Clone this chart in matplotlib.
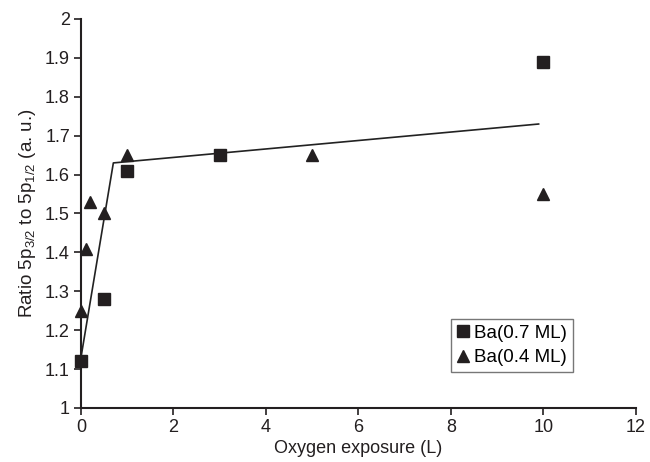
import matplotlib
matplotlib.use("Agg")
import matplotlib.pyplot as plt

plt.rcParams['font.family'] = ['Liberation Sans', 'DejaVu Sans']
plt.rcParams['mathtext.fontset'] = 'custom'
plt.rcParams['mathtext.rm'] = 'Liberation Sans'
plt.rcParams['mathtext.it'] = 'Liberation Sans'

sq_x = [0, 0.5, 1, 3, 10]
sq_y = [1.12, 1.28, 1.61, 1.65, 1.89]
tri_x = [0, 0.1, 0.2, 0.5, 1, 5, 10]
tri_y = [1.25, 1.41, 1.53, 1.50, 1.65, 1.65, 1.55]
fit_x = [0, 0.7, 9.9]
fit_y = [1.13, 1.63, 1.73]

fig = plt.figure(figsize=(6.5, 4.62), dpi=100)
ax = fig.add_axes([0.1246, 0.1169, 0.978 - 0.1246, 0.9589 - 0.1169])

ax.plot(fit_x, fit_y, color='#222222', lw=1.2, zorder=2)
ax.plot(sq_x, sq_y, 's', color='#231f20', ms=8.5, ls='none', label='Ba(0.7 ML)', zorder=3, clip_on=False)
ax.plot(tri_x, tri_y, '^', color='#231f20', ms=9, ls='none', label='Ba(0.4 ML)', zorder=3, clip_on=False)

ax.set_xlim(0, 12)
ax.set_ylim(1, 2)
ax.set_xticks(range(0, 13, 2))
ax.set_yticks([1, 1.1, 1.2, 1.3, 1.4, 1.5, 1.6, 1.7, 1.8, 1.9, 2])
ax.set_yticklabels(['1', '1.1', '1.2', '1.3', '1.4', '1.5', '1.6', '1.7', '1.8', '1.9', '2'])

for s in ['top', 'right']:
    ax.spines[s].set_visible(False)
for s in ['left', 'bottom']:
    ax.spines[s].set_linewidth(1.5)
    ax.spines[s].set_color('#231f20')
ax.tick_params(direction='out', length=5, width=1.2, labelsize=13, colors='#231f20', pad=3)

ax.set_xlabel('Oxygen exposure (L)', fontsize=13, color='#231f20', labelpad=3)
ax.set_ylabel(r'Ratio 5p$_{3/2}$ to 5p$_{1/2}$ (a. u.)', fontsize=13.5, color='#231f20', labelpad=5)

leg = ax.legend(loc='lower right', bbox_to_anchor=(0.8865, 0.0925), fontsize=13.5, frameon=True,
                fancybox=False, edgecolor='#555555', handlelength=0.7, handletextpad=0.23,
                borderpad=0.3, labelspacing=0.4, numpoints=1, borderaxespad=0)
leg.get_frame().set_linewidth(1.0)
for h in leg.legend_handles:
    h.set_markersize(8)

fig.savefig('out.png', dpi=100)
